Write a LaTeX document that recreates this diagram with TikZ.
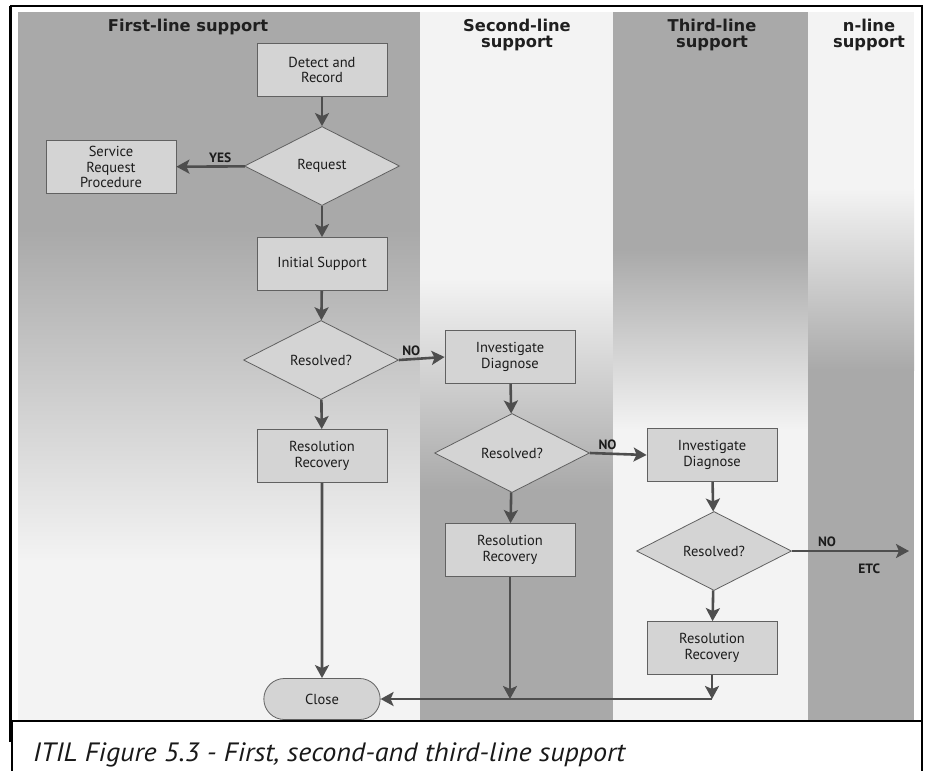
\documentclass[tikz,border=0pt]{standalone}
\usepackage{fontspec}
\setmainfont{PT Sans}
\newfontfamily\headfont{DejaVu Sans}
\usetikzlibrary{shapes.geometric,shapes.misc,arrows.meta}
\definecolor{lanegray}{HTML}{A9A9A9}
\definecolor{lanelight}{HTML}{F3F3F3}
\definecolor{boxfill}{HTML}{D4D4D4}
\definecolor{boxline}{HTML}{616161}
\definecolor{flow}{HTML}{4E4E4E}
\definecolor{ink}{HTML}{1C1C1C}
\tikzset{
  boxtext/.style={font=\fontsize{14.5}{15.5}\selectfont, text=ink, align=center},
  stepbox/.style={boxtext, draw=boxline, fill=boxfill, line width=0.8pt,
    rectangle, minimum width=130pt, minimum height=53pt, inner sep=2pt},
  decision/.style={boxtext, draw=boxline, fill=boxfill, line width=0.8pt,
    diamond, minimum width=155pt, minimum height=79pt, inner sep=0pt},
  terminal/.style={boxtext, draw=boxline, fill=boxfill, line width=0.8pt,
    rounded rectangle, minimum width=123pt, minimum height=41pt},
  flowarrow/.style={draw=flow, line width=2.6pt,
    -{Stealth[length=13pt,width=14pt,inset=3pt]}},
  lanehead/.style={font=\headfont\fontsize{16.3}{16.5}\selectfont\bfseries, text=black!88, align=center},
  flowlabel/.style={font=\fontsize{13.5}{14}\selectfont\bfseries, text=ink},
}
\begin{document}
\begin{tikzpicture}[x=1pt,y=-1pt]
\useasboundingbox (0,0) rectangle (925,771);
\fill[white] (0,0) rectangle (925,771);

% swim lanes: each one fades between grey and near-white
\fill[lanegray] (18,12) rectangle (420.5,230);
\shade[top color=lanegray,bottom color=lanelight] (18,229.5) rectangle (420.5,560);
\fill[lanelight] (18,559.5) rectangle (420.5,721);

\fill[lanelight] (420,12) rectangle (613.5,280);
\shade[top color=lanelight,bottom color=lanegray] (420,279.5) rectangle (613.5,490);
\fill[lanegray] (420,489.5) rectangle (613.5,721);

\fill[lanegray] (613,12) rectangle (808.5,250);
\shade[top color=lanegray,bottom color=lanelight] (613,249.5) rectangle (808.5,430);
\fill[lanelight] (613,429.5) rectangle (808.5,721);

\fill[lanelight] (808,12) rectangle (914,190);
\shade[top color=lanelight,bottom color=lanegray] (808,189.5) rectangle (914,370);
\fill[lanegray] (808,369.5) rectangle (914,721);

% lane headings
\node[lanehead] (h1) at (188,27) {First-line support};
\node[lanehead] (h2) at (517,35) {Second-line\\support};
\node[lanehead] (h3) at (712,35) {Third-line\\support};
\node[lanehead] (h4) at (869,35) {n-line\\support};

% first-line steps
\node[stepbox] (detect) at (322,70) {Detect and\\Record};
\node[decision] (request) at (322,166) {Request};
\node[stepbox] (srp) at (111,167) {Service\\Request\\Procedure};
\node[stepbox] (initial) at (322,264) {Initial Support};
\node[decision] (res1) at (321,360) {Resolved?};
\node[stepbox] (rr1) at (322,456) {Resolution\\Recovery};
\node[terminal] (close) at (322,699) {Close};

% second-line steps
\node[stepbox] (inv2) at (510,357) {Investigate\\Diagnose};
\node[decision] (res2) at (512,453) {Resolved?};
\node[stepbox] (rr2) at (510,550) {Resolution\\Recovery};

% third-line steps
\node[stepbox] (inv3) at (712,455) {Investigate\\Diagnose};
\node[decision] (res3) at (714,551) {Resolved?};
\node[stepbox] (rr3) at (712,648) {Resolution\\Recovery};

\coordinate (etc) at (909,551);
\coordinate (join2) at (rr2.south |- close.east);
\coordinate (join3) at (rr3.south |- close.east);

% connectors
\draw[flowarrow] (detect) -- (request);
\draw[flowarrow] (request) -- node[flowlabel, above=-1pt, pos=0.36] {YES} (srp);
\draw[flowarrow] (request) -- (initial);
\draw[flowarrow] (initial) -- (res1);
\draw[flowarrow] (res1) -- (rr1);
\draw[flowarrow] (res1.east) -- node[flowlabel, above=-1pt, pos=0.27] {NO} (inv2.west);
\draw[flowarrow] (inv2) -- (res2);
\draw[flowarrow] (res2) -- (rr2);
\draw[flowarrow] (res2.east) -- node[flowlabel, above=-1pt, pos=0.31] {NO} (inv3.west);
\draw[flowarrow] (inv3) -- (res3);
\draw[flowarrow] (res3) -- (rr3);
\draw[flowarrow] (res3.east) -- node[flowlabel, above=0pt, pos=0.3] {NO}
                                node[flowlabel, below=8pt, pos=0.66] {ETC} (etc);
\draw[flowarrow] (rr1) -- (close);
\draw[flowarrow] (rr2.south) -- (join2);
\draw[flowarrow] (rr3.south) -- (join3);
\draw[flowarrow] (join3) -- (close.east);

% frame and caption box
\draw[line width=2pt] (11,6) rectangle (922,721);
\draw[line width=2pt] (10,6) -- (10,742);
\draw[line width=1.5pt] (12,721) -- (12,771);
\draw[line width=1.5pt] (922,721) -- (922,771);
\node[anchor=base west, inner sep=0pt, text=black!90,
      font=\fontsize{26.5}{30}\selectfont\itshape] (caption) at (33,761)
  {\scalebox{1.06}[1]{ITIL Figure 5.3 - First, second-and third-line support}};
\end{tikzpicture}
\end{document}
